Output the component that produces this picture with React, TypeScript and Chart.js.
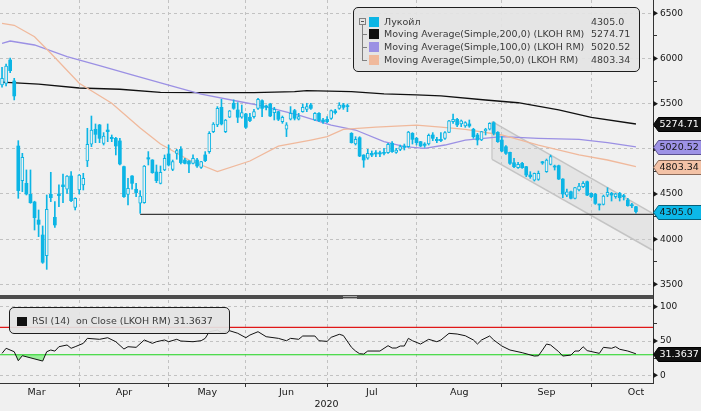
import React, { useEffect, useRef } from 'react';
import { Chart, registerables } from 'chart.js';

Chart.register(...registerables);

const FONT = '"DejaVu Sans", sans-serif';
const BG = '#f0f0f0';
const GRID = '#c2c2c2';
const CYAN = '#0cb5e5';
const MA200_COLOR = '#101010';
const MA100_COLOR = '#9b90e4';
const MA50_COLOR = '#f0b99c';

// ---- time axis (trading-day index) ----
const monthNames = ['Mar', 'Apr', 'May', 'Jun', 'Jul', 'Aug', 'Sep', 'Oct'];
const monthStart = [-2, 19, 41, 60, 80, 102, 123, 145];
const monthDays = [21, 22, 19, 20, 22, 21, 22, 22];
const yearLabel = '2020';
const X_MIN = -0.5;
const X_MAX = 160.2;

// ---- price (Лукойл) OHLC ----
const opens = [
  5707, 5725, 5983, 5751, 5031, 4647, 4618, 4496, 4411, 4212, 4046, 3817, 4496, 4242, 4500, 4600, 4552, 4699, 4352,
  4544, 4600, 4865, 5050, 5216, 5264, 5061, 5208, 5127, 5116, 5087, 4803, 4496, 4699, 4552, 4397, 4404, 4902, 4876, 4743, 4618, 4766,
  4943, 4773, 4950, 4994, 4876, 4865, 4839, 4876, 4795, 4932, 4969, 5190, 5264, 5459, 5190, 5349, 5504, 5430, 5349,
  5386, 5349, 5356, 5448, 5533, 5474, 5496, 5400, 5411, 5301, 5216, 5327, 5423, 5327, 5411, 5437, 5485, 5319, 5393, 5319,
  5326, 5337, 5419, 5448, 5485, 5474, 5171, 5053, 5123, 4931, 4895, 4950, 4957, 4957, 4957, 4957, 5061, 4961, 4994, 5031, 5024, 5171,
  5116, 5079, 5053, 5053, 5153, 5105, 5105, 5116, 5182, 5300, 5326, 5275, 5252, 5275, 5216, 5153, 5098, 5201, 5216, 5289, 5182,
  5097, 5023, 4961, 4846, 4791, 4839, 4802, 4710, 4654, 4662, 4857, 4747, 4828, 4809, 4813, 4665, 4488, 4525, 4452, 4544, 4581, 4636,
  4507, 4496, 4385, 4385, 4488, 4507, 4470, 4507, 4481, 4433, 4378, 4359,
];
const highs = [
  5902, 5939, 6005, 5780, 5090, 4950, 4766, 4766, 4420, 4323, 4146, 4489, 4740, 4415, 4600, 4721, 4705, 4747, 4458,
  4716, 4729, 5227, 5363, 5275, 5270, 5179, 5275, 5153, 5127, 5116, 4810, 4673, 4705, 4618, 4537, 4815, 4969, 4880, 4821, 4810, 4932,
  5042, 4876, 4994, 5024, 4895, 4870, 4932, 4895, 4862, 4969, 5190, 5290, 5467, 5548, 5325, 5424, 5541, 5511, 5485,
  5393, 5393, 5437, 5559, 5541, 5485, 5504, 5459, 5415, 5363, 5290, 5467, 5437, 5393, 5496, 5504, 5504, 5400, 5400, 5338,
  5356, 5430, 5437, 5511, 5503, 5496, 5179, 5134, 5134, 4935, 4994, 4976, 4979, 4976, 5005, 5061, 5079, 5005, 5042, 5053, 5193, 5179,
  5127, 5083, 5068, 5164, 5179, 5127, 5179, 5190, 5315, 5385, 5337, 5319, 5300, 5319, 5227, 5171, 5193, 5227, 5289, 5300, 5190,
  5134, 5035, 4965, 4894, 4850, 4850, 4806, 4747, 4732, 4754, 4861, 4887, 4931, 4820, 4820, 4670, 4555, 4533, 4574, 4618, 4636, 4643,
  4512, 4507, 4389, 4488, 4570, 4518, 4507, 4518, 4496, 4452, 4396, 4363,
];
const lows = [
  5681, 5695, 5843, 5541, 4452, 4526, 4489, 4397, 4101, 4028, 3732, 3666, 4415, 4131, 4360, 4404, 4507, 4415, 4323,
  4500, 4544, 4803, 5024, 5068, 5068, 5042, 5079, 5079, 4932, 4821, 4463, 4378, 4552, 4470, 4286, 4397, 4821, 4729, 4625, 4611, 4758,
  4810, 4758, 4884, 4832, 4832, 4736, 4832, 4795, 4784, 4858, 4950, 5179, 5245, 5264, 5179, 5345, 5437, 5290, 5338,
  5227, 5301, 5338, 5437, 5356, 5430, 5356, 5319, 5312, 5282, 5135, 5319, 5319, 5319, 5405, 5411, 5437, 5312, 5301, 5282,
  5289, 5326, 5385, 5437, 5437, 5411, 5063, 5042, 4913, 4795, 4884, 4913, 4913, 4913, 4931, 4950, 4961, 4950, 4979, 4987, 5016, 5053,
  5042, 5024, 5016, 5042, 5090, 5068, 5079, 5105, 5179, 5282, 5245, 5245, 5238, 5238, 5116, 5042, 5090, 5153, 5208, 5153, 5071,
  4968, 4939, 4828, 4791, 4784, 4784, 4691, 4673, 4643, 4651, 4828, 4739, 4821, 4765, 4660, 4459, 4470, 4444, 4444, 4533, 4570, 4481,
  4459, 4385, 4322, 4378, 4470, 4422, 4452, 4422, 4433, 4365, 4348, 4289,
];
const closes = [
  5780, 5917, 5865, 5585, 4537, 4906, 4500, 4404, 4238, 4164, 3744, 4330, 4459, 4157, 4482, 4581, 4699, 4426, 4452,
  4710, 4673, 5050, 5208, 5160, 5116, 5142, 5190, 5112, 5031, 4832, 4470, 4563, 4618, 4515, 4478, 4810, 4887, 4736, 4647, 4740, 4895,
  4821, 4858, 4980, 4847, 4839, 4832, 4895, 4810, 4858, 4869, 5172, 5275, 5448, 5275, 5319, 5419, 5448, 5349, 5400,
  5238, 5312, 5411, 5548, 5448, 5459, 5363, 5437, 5327, 5349, 5264, 5393, 5338, 5356, 5459, 5467, 5448, 5393, 5312, 5301,
  5300, 5422, 5400, 5485, 5459, 5467, 5068, 5105, 4920, 4876, 4950, 4931, 4943, 4943, 4950, 5050, 4968, 4987, 5024, 5016, 5186, 5105,
  5068, 5031, 5038, 5149, 5116, 5090, 5090, 5179, 5311, 5326, 5264, 5311, 5289, 5252, 5134, 5098, 5190, 5216, 5282, 5171, 5079,
  4975, 4950, 4839, 4802, 4828, 4791, 4710, 4691, 4728, 4728, 4843, 4876, 4913, 4798, 4665, 4500, 4525, 4452, 4570, 4588, 4618, 4488,
  4470, 4396, 4378, 4477, 4518, 4488, 4503, 4459, 4470, 4370, 4370, 4305,
];

// ---- moving averages (at these bar indices) ----
const ma200Idx = [0, 9, 19, 29, 39, 49, 62, 72, 75, 86, 94, 102, 108, 119, 127, 137, 145, 156];
const ma200Val = [5738, 5717, 5673, 5659, 5625, 5621, 5621, 5632, 5645, 5632, 5607, 5596, 5585, 5540, 5510, 5430, 5349, 5274.71];
const ma100Idx = [0, 2, 8, 16, 24, 32, 41, 49, 59, 64, 73, 81, 87, 94, 99, 104, 109, 114, 123, 132, 142, 149, 156];
const ma100Val = [6168, 6193, 6149, 6020, 5922, 5817, 5706, 5606, 5518, 5474, 5374, 5263, 5208, 5079, 5023, 5005, 5042, 5097, 5134, 5116, 5105, 5068, 5020.52];
const ma50Idx = [0, 3, 8, 12, 19, 27, 34, 39, 46, 53, 61, 68, 76, 80, 84, 92, 102, 108, 114, 123, 132, 142, 149, 156];
const ma50Val = [6389, 6367, 6241, 6057, 5725, 5504, 5230, 5053, 4876, 4747, 4865, 5030, 5097, 5134, 5216, 5241, 5263, 5241, 5216, 5153, 5042, 4932, 4876, 4803.34];

// ---- drawn annotations ----
const supportStart = 34;
const supportLevel = 4275;
const channelX = [120.6, 160.0];
const channelUpper = [5300, 4289];
const channelLower = [4884, 3880];

// ---- RSI(14) ----
const rsiIdx = [0, 1, 3, 4, 5, 10, 11, 12, 13, 14, 16, 17, 18, 20, 21, 24, 26, 28, 30, 31, 33, 35, 37, 38, 40, 41, 43, 44, 47, 49, 50, 51, 53, 54, 56, 58, 60, 61, 63, 65, 68, 70, 71, 73, 74, 77, 78, 80, 81, 83, 84, 86, 87, 88, 89, 90, 93, 95, 96, 97, 98, 99, 100, 101, 103, 105, 107, 108, 110, 112, 114, 116, 117, 118, 120, 121, 123, 125, 128, 131, 132, 133, 134, 135, 137, 138, 140, 141, 142, 143, 144, 147, 148, 150, 151, 152, 154, 156];
const rsiVal = [32, 39.4, 34.4, 21.3, 28.6, 20.8, 34.4, 36.9, 35.3, 41.7, 44.2, 39.4, 41.7, 46.6, 53.9, 52.5, 54.8, 49, 38.3, 41.7, 40.8, 51.5, 46.6, 49, 51.5, 49, 52.5, 50, 49, 50.5, 53.9, 63.6, 66, 62.3, 65, 61.3, 54.8, 58.7, 63.6, 56.3, 53.9, 50.4, 53.9, 52.5, 57.3, 57.3, 50.4, 49.5, 55.4, 59.8, 58, 40.8, 35.4, 31.5, 31, 35.4, 35.4, 43.2, 39.8, 39.8, 42.7, 42.7, 53.9, 50.4, 45.6, 52.5, 49, 51.5, 61.2, 60.2, 57.7, 51.5, 45.6, 51.5, 57.3, 51.5, 42.7, 36.9, 33, 28.1, 28.5, 36.9, 45.6, 44.2, 34.4, 28.1, 29.5, 35.4, 35.4, 41.7, 36, 32, 40.8, 39.4, 41.7, 38, 35.4, 31.3637];
const rsiUpper = 70;
const rsiLower = 30;

// ---- value axes ----
const P_MIN = 3393;
const P_MAX = 6647;
const priceMajor = [3500, 4000, 4500, 5000, 5500, 6000, 6500];
const priceMinor = [3750, 4250, 4750, 5250, 5750, 6250];
const R_MIN = -11.2;
const R_MAX = 109.8;
const rsiMajor = [0, 50, 100];
const rsiMinor = [25, 75];

const seriesNames = ['Лукойл', 'Moving Average(Simple,200,0) (LKOH RM)', 'Moving Average(Simple,100,0) (LKOH RM)', 'Moving Average(Simple,50,0) (LKOH RM)'];
const rsiName = 'RSI (14)  on Close (LKOH RM)';

const last = (a: number[]) => a[a.length - 1];
const pts = (ix: number[], vs: number[]) => ix.map((x, k) => ({ x, y: vs[k] }));

type Badge = { v: number; text: string; bg: string; fg: string; border: string };

function axisDeco(majors: number[], badges: Badge[]) {
  return {
    id: 'axisDeco',
    afterDraw(chart: any) {
      const ctx = chart.ctx;
      const s = chart.scales.y;
      ctx.save();
      ctx.fillStyle = '#1a1a1a';
      for (const v of majors) {
        const y = s.getPixelForValue(v);
        ctx.beginPath();
        ctx.moveTo(s.left, y - 3);
        ctx.lineTo(s.left + 5, y);
        ctx.lineTo(s.left, y + 3);
        ctx.closePath();
        ctx.fill();
      }
      for (const b of badges) {
        const y = Math.round(s.getPixelForValue(b.v)) + 0.5;
        const x0 = s.left + 0.5;
        const h = 7;
        ctx.beginPath();
        ctx.moveTo(x0, y);
        ctx.lineTo(x0 + 5, y - h);
        ctx.lineTo(chart.width + 2, y - h);
        ctx.lineTo(chart.width + 2, y + h);
        ctx.lineTo(x0 + 5, y + h);
        ctx.closePath();
        ctx.fillStyle = b.bg;
        ctx.fill();
        ctx.strokeStyle = b.border;
        ctx.lineWidth = 1;
        ctx.stroke();
        ctx.fillStyle = b.fg;
        ctx.font = `9.5px ${FONT}`;
        ctx.textBaseline = 'middle';
        ctx.textAlign = 'left';
        ctx.fillText(b.text, x0 + 6, y + 0.5);
      }
      ctx.restore();
    },
  };
}

function valueAxis(min: number, max: number, majors: number[], minors: number[]) {
  const all = [...majors, ...minors].sort((a, b) => a - b);
  const isMajor = (ctx: any) => ctx && ctx.tick && majors.includes(ctx.tick.value);
  return {
    type: 'linear',
    position: 'right',
    min,
    max,
    beginAtZero: false,
    afterBuildTicks: (s: any) => {
      s.ticks = all.map((v) => ({ value: v }));
    },
    afterFit: (s: any) => {
      s.width = 48;
      s.paddingTop = 0;
      s.paddingBottom = 0;
    },
    ticks: {
      autoSkip: false,
      padding: 3,
      color: '#151515',
      font: { family: FONT, size: 9 },
      callback: (v: any) => (majors.includes(v) ? String(v) : ''),
    },
    grid: {
      color: (ctx: any) => (isMajor(ctx) ? GRID : 'rgba(0,0,0,0)'),
      tickColor: (ctx: any) => (ctx && ctx.tick && !isMajor(ctx) ? '#333' : 'rgba(0,0,0,0)'),
      tickLength: 4,
      lineWidth: 1,
    },
    border: { display: true, color: '#333', width: 1, dash: [3, 3] },
  };
}

export default function App() {
  const mainRef = useRef<HTMLCanvasElement>(null);
  const rsiRef = useRef<HTMLCanvasElement>(null);

  useEffect(() => {
    const idx = opens.map((_, i) => i);
    const upBodies = idx.filter((i) => closes[i] >= opens[i]).map((i) => ({ x: i, y: [opens[i], closes[i]] }));
    const downBodies = idx.filter((i) => closes[i] < opens[i]).map((i) => ({ x: i, y: [closes[i], opens[i]] }));
    const wicks = idx.map((i) => ({ x: i, y: [lows[i], highs[i]] }));
    const line = (data: any, color: string, width: number, extra: any = {}) => ({
      type: 'line',
      data,
      borderColor: color,
      borderWidth: width,
      pointRadius: 0,
      fill: false,
      tension: 0,
      ...extra,
    });

    const monthTicks = monthStart.filter((v) => v > X_MIN && v < X_MAX);
    const monthMid = monthStart.map((s, k) => s + monthDays[k] / 2);
    const midLabel = new Map(monthMid.map((m, k) => [m, monthNames[k]]));
    const isStart = (ctx: any) => ctx && ctx.tick && monthTicks.includes(ctx.tick.value);

    const main = new Chart(mainRef.current as HTMLCanvasElement, {
      type: 'bar',
      data: {
        datasets: [
          { type: 'bar', data: downBodies, backgroundColor: CYAN, borderWidth: 0, barThickness: 3, grouped: false, minBarLength: 1 },
          { type: 'bar', data: upBodies, backgroundColor: BG, borderColor: CYAN, borderWidth: 1, borderSkipped: false, barThickness: 3, grouped: false, minBarLength: 1 },
          { type: 'bar', data: wicks, backgroundColor: CYAN, borderWidth: 0, barThickness: 1, grouped: false, minBarLength: 1 },
          line(pts([supportStart, X_MAX], [supportLevel, supportLevel]), '#3a3a3a', 1.3),
          line(pts(ma50Idx, ma50Val), MA50_COLOR, 1.3),
          line(pts(ma100Idx, ma100Val), MA100_COLOR, 1.3),
          line(pts(ma200Idx, ma200Val), MA200_COLOR, 1.3),
          line(pts(channelX, channelUpper), '#c4c4c4', 1.5, { fill: '+1', backgroundColor: 'rgba(205,205,205,0.35)' }),
          line(pts(channelX, channelLower), '#c4c4c4', 1.5),
          line(pts([channelX[0], channelX[0]], [channelUpper[0], channelLower[0]]), '#d0d0d0', 1),
        ] as any,
      },
      options: {
        responsive: false,
        animation: false,
        events: [],
        layout: { padding: 0 },
        plugins: { legend: { display: false }, tooltip: { enabled: false }, filler: { drawTime: 'beforeDatasetsDraw' } } as any,
        scales: {
          x: {
            type: 'linear',
            min: X_MIN,
            max: X_MAX,
            offset: false,
            afterBuildTicks: (s: any) => {
              s.ticks = monthTicks.map((v) => ({ value: v }));
            },
            afterFit: (s: any) => {
              s.height = 0;
              s.paddingLeft = 0;
              s.paddingRight = 0;
            },
            ticks: { display: false },
            grid: { offset: false, color: GRID, drawTicks: false, lineWidth: 1 },
            border: { display: false, dash: [3, 3] },
          } as any,
          y: valueAxis(P_MIN, P_MAX, priceMajor, priceMinor) as any,
        },
      },
      plugins: [
        axisDeco(priceMajor, [
          { v: last(ma200Val), text: last(ma200Val).toFixed(2), bg: '#111', fg: '#fff', border: '#000' },
          { v: last(ma100Val), text: last(ma100Val).toFixed(2), bg: '#9d92e6', fg: '#151515', border: '#5a5090' },
          { v: last(ma50Val), text: last(ma50Val).toFixed(2), bg: '#f3c2a6', fg: '#151515', border: '#8a6a5a' },
          { v: last(closes), text: last(closes).toFixed(1), bg: '#0cb8e8', fg: '#151515', border: '#06607a' },
        ]),
      ],
    } as any);

    const rsi = new Chart(rsiRef.current as HTMLCanvasElement, {
      type: 'line',
      data: {
        datasets: [
          line(pts(rsiIdx, rsiVal), '#111', 1, {
            fill: { target: { value: rsiLower }, above: 'rgba(0,0,0,0)', below: '#9bee9b' },
          }),
          line(pts([X_MIN, X_MAX], [rsiUpper, rsiUpper]), '#e01818', 1.2),
          line(pts([X_MIN, X_MAX], [rsiLower, rsiLower]), '#1fd41f', 1.2),
        ] as any,
      },
      options: {
        responsive: false,
        animation: false,
        events: [],
        layout: { padding: 0 },
        plugins: { legend: { display: false }, tooltip: { enabled: false }, filler: { drawTime: 'beforeDatasetsDraw' } } as any,
        scales: {
          x: {
            type: 'linear',
            min: X_MIN,
            max: X_MAX,
            offset: false,
            afterBuildTicks: (s: any) => {
              s.ticks = [...monthTicks, ...monthMid].sort((a, b) => a - b).map((v) => ({ value: v }));
            },
            afterFit: (s: any) => {
              s.height = 28;
              s.paddingLeft = 0;
              s.paddingRight = 0;
            },
            ticks: {
              autoSkip: false,
              maxRotation: 0,
              padding: 0,
              color: '#151515',
              font: { family: FONT, size: 9.5 },
              callback: (v: any) => midLabel.get(v) || '',
            },
            grid: {
              offset: false,
              color: (ctx: any) => (isStart(ctx) ? GRID : 'rgba(0,0,0,0)'),
              tickColor: (ctx: any) => (isStart(ctx) ? '#333' : 'rgba(0,0,0,0)'),
              tickLength: 4,
              lineWidth: 1,
            },
            border: { display: true, color: '#333', width: 1, dash: [3, 3] },
            title: { display: true, text: yearLabel, color: '#151515', font: { family: FONT, size: 9.5 }, padding: { top: 0, bottom: 1 } },
          } as any,
          y: valueAxis(R_MIN, R_MAX, rsiMajor, rsiMinor) as any,
        },
      },
      plugins: [axisDeco(rsiMajor, [{ v: last(rsiVal), text: last(rsiVal).toFixed(4), bg: '#111', fg: '#fff', border: '#000' }])],
    } as any);

    return () => {
      main.destroy();
      rsi.destroy();
    };
  }, []);

  const legendColors = [CYAN, MA200_COLOR, MA100_COLOR, MA50_COLOR];
  const legendValues = [last(closes).toFixed(1), last(ma200Val).toFixed(2), last(ma100Val).toFixed(2), last(ma50Val).toFixed(2)];
  const rowY = [13.5, 26.2, 38.9, 51.6];
  const treeLine = '#808080';

  return (
    <div style={{ position: 'absolute', left: 0, top: 0, width: 701, height: 411, background: BG, overflow: 'hidden', fontFamily: FONT }}>
      <canvas ref={mainRef} width={701} height={294} style={{ position: 'absolute', left: 0, top: 0 }} />
      <div style={{ position: 'absolute', left: 0, top: 295, width: 653, height: 4, background: '#4c4c4c' }} />
      <div style={{ position: 'absolute', left: 343, top: 296, width: 14, height: 1, background: '#a8a8a8' }} />
      <div style={{ position: 'absolute', left: 343, top: 298, width: 14, height: 1, background: '#a8a8a8' }} />
      <div style={{ position: 'absolute', left: 653, top: 293, width: 1, height: 8, background: '#333' }} />
      <canvas ref={rsiRef} width={701} height={111} style={{ position: 'absolute', left: 0, top: 300 }} />

      {/* main legend */}
      <div
        style={{
          position: 'absolute',
          left: 353,
          top: 7,
          width: 287,
          height: 65,
          boxSizing: 'border-box',
          border: '1px solid #1e1e1e',
          borderRadius: 5,
          background: 'rgba(228,228,228,0.92)',
          color: '#3a3a3a',
          fontSize: 9.5,
        }}
      >
        <div style={{ position: 'absolute', left: 5, top: 10, width: 7, height: 7, boxSizing: 'border-box', border: `1px solid ${treeLine}` }}>
          <div style={{ position: 'absolute', left: 1, top: 2, width: 3, height: 1, background: '#555' }} />
        </div>
        <div style={{ position: 'absolute', left: 8, top: 17, width: 1, height: rowY[3] - 17, background: treeLine }} />
        {[1, 2, 3].map((r) => (
          <div key={r} style={{ position: 'absolute', left: 8, top: rowY[r], width: 5, height: 1, background: treeLine }} />
        ))}
        {seriesNames.map((name, r) => (
          <React.Fragment key={name}>
            <div style={{ position: 'absolute', left: 15, top: rowY[r] - 5, width: 10, height: 10, background: legendColors[r] }} />
            <div style={{ position: 'absolute', left: 30, top: rowY[r] - 6, height: 12, lineHeight: '12px', whiteSpace: 'pre' }}>{name}</div>
            <div style={{ position: 'absolute', left: 237, top: rowY[r] - 6, height: 12, lineHeight: '12px', whiteSpace: 'pre' }}>{legendValues[r]}</div>
          </React.Fragment>
        ))}
      </div>

      {/* RSI legend */}
      <div
        style={{
          position: 'absolute',
          left: 9,
          top: 307,
          width: 221,
          height: 27,
          boxSizing: 'border-box',
          border: '1px solid #1e1e1e',
          borderRadius: 5,
          background: 'rgba(228,228,228,0.92)',
          color: '#3a3a3a',
          fontSize: 9.5,
        }}
      >
        <div style={{ position: 'absolute', left: 7, top: 8.5, width: 10, height: 9, background: '#111' }} />
        <div style={{ position: 'absolute', left: 22, top: 6.5, height: 12, lineHeight: '12px', whiteSpace: 'pre' }}>
          {rsiName + ' ' + last(rsiVal).toFixed(4)}
        </div>
      </div>
    </div>
  );
}
